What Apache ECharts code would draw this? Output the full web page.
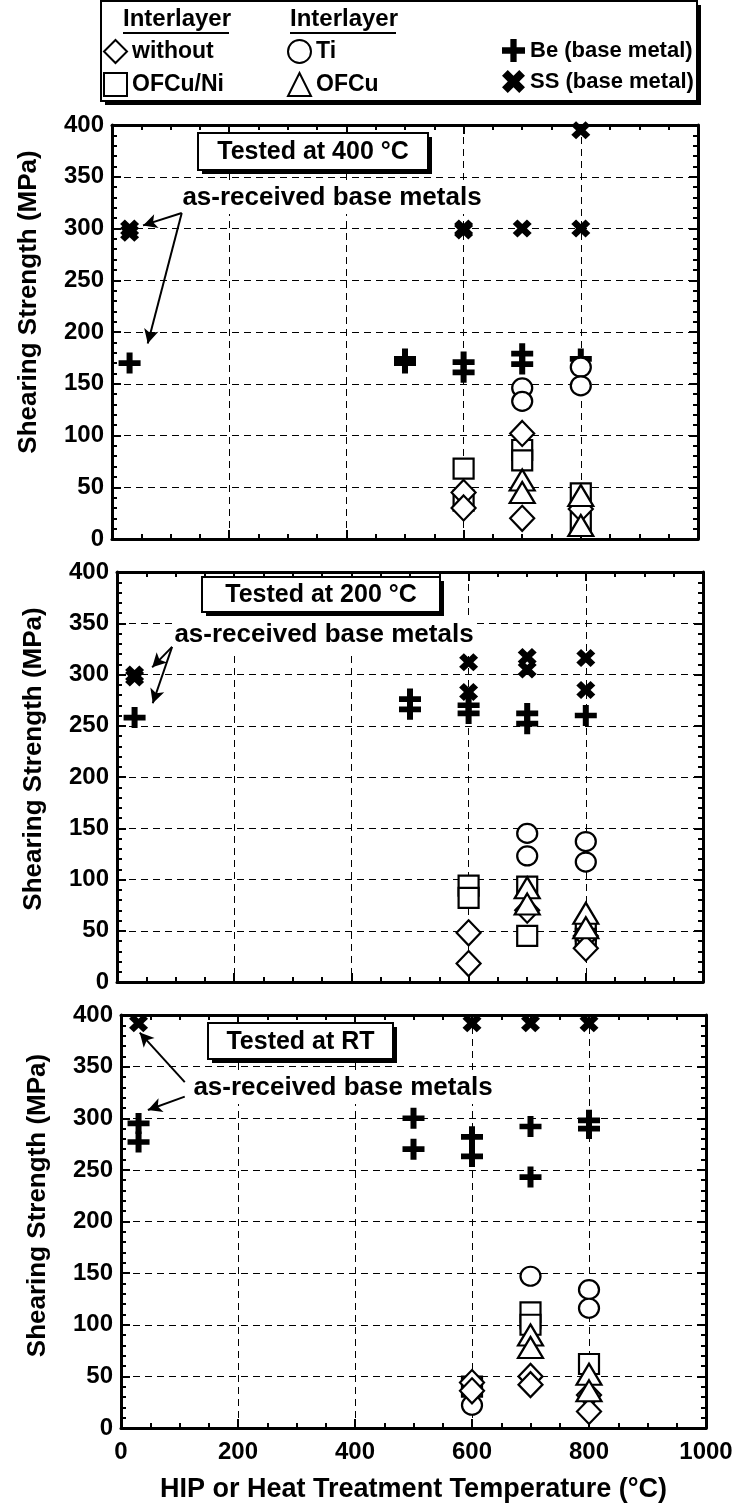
<!DOCTYPE html>
<html><head><meta charset="utf-8">
<script src="https://cdn.jsdelivr.net/npm/echarts@6/dist/echarts.min.js"></script>
<style>html,body{margin:0;padding:0;background:#fff}#c{width:739px;height:1507px}</style>
</head><body><div id="c"></div>
<script>
// ---------- labels ----------
const seriesNames = ['without', 'OFCu/Ni', 'Ti', 'OFCu', 'Be (base metal)', 'SS (base metal)'];
const panelTitles = ['Tested at 400 °C', 'Tested at 200 °C', 'Tested at RT'];
const noteText = 'as-received base metals';
const headerText = 'Interlayer';
const yTitle = 'Shearing Strength (MPa)';
const xTitle = 'HIP or Heat Treatment Temperature (°C)';

// ---------- data: [temperature °C, shearing strength MPa] ----------
// Tested at 400 °C
const t400_without = [[600, 45], [600, 30], [700, 102], [700, 20], [800, 29]];
const t400_ofcuni  = [[600, 68], [600, 37], [700, 86], [700, 76], [800, 44], [800, 16]];
const t400_ti      = [[700, 146], [700, 133], [800, 166], [800, 148]];
const t400_ofcu    = [[700, 57], [700, 45], [800, 42], [800, 13]];
const t400_be      = [[30, 170], [500, 174], [500, 170], [600, 171], [600, 161], [700, 179], [700, 169], [800, 174]];
const t400_ss      = [[30, 300], [30, 296], [600, 300], [600, 298], [700, 300], [800, 395], [800, 300]];
// Tested at 200 °C
const t200_without = [[600, 48], [600, 18], [700, 70], [800, 45], [800, 33]];
const t200_ofcuni  = [[600, 94], [600, 82], [700, 93], [700, 45], [800, 50], [800, 42]];
const t200_ti      = [[700, 145], [700, 123], [800, 137], [800, 117]];
const t200_ofcu    = [[700, 92], [700, 76], [800, 67], [800, 53]];
const t200_be      = [[30, 258], [500, 276], [500, 266], [600, 270], [600, 262], [700, 262], [700, 252], [800, 260]];
const t200_ss      = [[30, 300], [30, 297], [600, 312], [600, 283], [700, 317], [700, 305], [800, 316], [800, 285]];
// Tested at RT
const tRT_without  = [[600, 44], [600, 36], [700, 50], [700, 42], [800, 32], [800, 16]];
const tRT_ofcuni   = [[600, 40], [700, 112], [700, 100], [800, 62]];
const tRT_ti       = [[600, 22], [700, 147], [700, 98], [800, 134], [800, 116]];
const tRT_ofcu     = [[700, 90], [700, 78], [800, 52], [800, 36]];
const tRT_be       = [[30, 295], [30, 277], [500, 300], [500, 270], [600, 282], [600, 263], [700, 292], [700, 243], [800, 298], [800, 290]];
const tRT_ss       = [[30, 392], [600, 392], [700, 392], [800, 392]];

// annotation arrows (data coordinates: [from], [to])
const arrows400 = [[[119, 315], [53, 303]], [[119, 315], [61, 189]]];
const arrows200 = [[[94, 327], [60, 307]], [[94, 327], [61, 272]]];
const arrowsRT  = [[[109, 335], [32, 383]], [[109, 321], [46, 308]]];

const panelData = [
  [t400_without, t400_ofcuni, t400_ti, t400_ofcu, t400_be, t400_ss],
  [t200_without, t200_ofcuni, t200_ti, t200_ofcu, t200_be, t200_ss],
  [tRT_without, tRT_ofcuni, tRT_ti, tRT_ofcu, tRT_be, tRT_ss]
];
const panelArrows = [arrows400, arrows200, arrowsRT];

// ---------- styling ----------
const FONT = '"Liberation Sans", Arial, Helvetica, sans-serif';
const PLUS = 'path://M4,0H7V4H11V7H7V11H4V7H0V4H4Z';
const XS = 'path://M0,3L3,0L6,3L9,0L12,3L9,6L12,9L9,12L6,9L3,12L0,9L3,6Z';
const symbolStyle = {
  'without': { symbol: 'diamond', symbolSize: [24, 25], open: true },
  'OFCu/Ni': { symbol: 'rect', symbolSize: [20, 20], open: true },
  'Ti': { symbol: 'circle', symbolSize: [20, 19], open: true },
  'OFCu': { symbol: 'triangle', symbolSize: [25, 21], open: true },
  'Be (base metal)': { symbol: PLUS, symbolSize: [22, 21], open: false },
  'SS (base metal)': { symbol: XS, symbolSize: [19, 18], open: false }
};
const drawOrder = [4, 5, 2, 1, 0, 3];

const grids = [
  { left: 112, top: 125, width: 586, height: 414 },
  { left: 117, top: 572, width: 586, height: 410 },
  { left: 121, top: 1015, width: 585, height: 413 }
];
const yTitleShift = [30, 18, 16];

const black = '#000';
function xAxisDef(i, top) {
  return {
    gridIndex: i, type: 'value', min: 0, max: 1000, interval: 200,
    position: top ? 'top' : 'bottom',
    axisLine: { show: true, onZero: false, lineStyle: { color: black, width: 3 } },
    axisTick: { show: true, inside: true, length: 9, lineStyle: { color: black, width: 2 } },
    minorTick: { show: true, splitNumber: 4, length: 5, lineStyle: { color: black, width: 2 } },
    splitLine: { show: !top, lineStyle: { color: black, width: 1, type: [7, 5] } },
    axisLabel: { show: !top && i === 2, color: black, fontFamily: FONT, fontWeight: 'bold', fontSize: 24, margin: 12,
                 formatter: v => String(v) },
    name: (!top && i === 2) ? xTitle : '',
    nameLocation: 'middle', nameGap: 48,
    nameTextStyle: { color: black, fontFamily: FONT, fontWeight: 'bold', fontSize: 27 }
  };
}
function yAxisDef(i, right) {
  return {
    gridIndex: i, type: 'value', min: 0, max: 400, interval: 50,
    position: right ? 'right' : 'left',
    axisLine: { show: true, onZero: false, lineStyle: { color: black, width: 3 } },
    axisTick: { show: true, inside: true, length: 9, lineStyle: { color: black, width: 2 } },
    minorTick: { show: true, splitNumber: 5, length: 5, lineStyle: { color: black, width: 2 } },
    splitLine: { show: !right, lineStyle: { color: black, width: 1, type: [7, 5] } },
    axisLabel: { show: !right, color: black, fontFamily: FONT, fontWeight: 'bold', fontSize: 24, margin: 8 },
    name: right ? '' : yTitle,
    nameLocation: 'middle', nameGap: 70, nameRotate: 90,
    nameTextStyle: { color: black, fontFamily: FONT, fontWeight: 'bold', fontSize: 26,
                     padding: [0, 0, 0, 2 * yTitleShift[i]] }
  };
}

const xAxes = [], yAxes = [];
for (let i = 0; i < 3; i++) { xAxes.push(xAxisDef(i, false)); yAxes.push(yAxisDef(i, false)); }
for (let i = 0; i < 3; i++) { xAxes.push(xAxisDef(i, true)); yAxes.push(yAxisDef(i, true)); }

const series = [];
for (let p = 0; p < 3; p++) {
  drawOrder.forEach(k => {
    const name = seriesNames[k];
    const st = symbolStyle[name];
    const s = {
      type: 'scatter', name, xAxisIndex: p, yAxisIndex: p,
      data: panelData[p][k],
      symbol: st.symbol, symbolSize: st.symbolSize,
      itemStyle: st.open ? { color: '#fff', borderColor: black, borderWidth: 2.2, opacity: 1 }
                         : { color: black, borderColor: black, borderWidth: 0, opacity: 1 },
      emphasis: { disabled: true },
      z: 3
    };
    if (name === 'SS (base metal)') {
      s.markLine = {
        silent: true, symbol: ['none', 'arrow'], symbolSize: [11, 14],
        label: { show: false },
        lineStyle: { color: black, width: 2, type: 'solid' },
        data: panelArrows[p].map(a => [{ coord: a[0] }, { coord: a[1] }])
      };
    }
    series.push(s);
  });
}

const legendCommon = { orient: 'vertical', itemWidth: 23, itemHeight: 23, itemGap: 8, padding: 0, selectedMode: false, z: 5 };
const legends = [
  Object.assign({ left: 103, top: 39, data: [seriesNames[0], seriesNames[1]],
    textStyle: { color: black, fontFamily: FONT, fontWeight: 'bold', fontSize: 23 } }, legendCommon),
  Object.assign({ left: 287, top: 39, data: [seriesNames[2], seriesNames[3]],
    textStyle: { color: black, fontFamily: FONT, fontWeight: 'bold', fontSize: 23 } }, legendCommon),
  Object.assign({ left: 502, top: 39, data: [seriesNames[4], seriesNames[5]],
    textStyle: { color: black, fontFamily: FONT, fontWeight: 'bold', fontSize: 22 } }, legendCommon)
];

// text boxes
function shadowBox(x, y, w, h, z) {
  return [
    { type: 'rect', z, shape: { x: x + 4, y: y + 4, width: w, height: h }, style: { fill: black } },
    { type: 'rect', z, shape: { x, y, width: w, height: h }, style: { fill: '#fff', stroke: black, lineWidth: 2 } }
  ];
}
const titleBoxes = [
  { x: 198, y: 133, w: 230, h: 37 },
  { x: 202, y: 577, w: 238, h: 35 },
  { x: 208, y: 1023, w: 185, h: 36 }
];
const noteBoxes = [
  { x: 332, y: 198 },
  { x: 324, y: 635 },
  { x: 343, y: 1088 }
];
const graphics = [];
graphics.push(...shadowBox(101, 1, 596, 100, 1));
[123, 290].forEach(x => {
  graphics.push({ type: 'text', z: 6, style: { x, y: 7, text: headerText, font: 'bold 24px ' + FONT, fill: black } });
  graphics.push({ type: 'line', z: 6, shape: { x1: x, y1: 33, x2: x + 106, y2: 33 }, style: { stroke: black, lineWidth: 2 } });
});
titleBoxes.forEach((b, i) => {
  graphics.push(...shadowBox(b.x, b.y, b.w, b.h, 4));
  graphics.push({ type: 'text', z: 5, style: { x: b.x + b.w / 2, y: b.y + b.h / 2 + 1, text: panelTitles[i], font: 'bold 25px ' + FONT, fill: black, align: 'center', verticalAlign: 'middle' } });
});
noteBoxes.forEach(b => {
  graphics.push({ type: 'text', z: 4, style: { x: b.x, y: b.y, text: noteText, font: 'bold 26px ' + FONT, fill: black, align: 'center', verticalAlign: 'middle', backgroundColor: '#fff', padding: [3, 2] } });
});

const chart = echarts.init(document.getElementById('c'), null, { renderer: 'canvas' });
chart.setOption({
  animation: false,
  backgroundColor: '#fff',
  grid: grids,
  xAxis: xAxes,
  yAxis: yAxes,
  legend: legends,
  series,
  graphic: graphics
});
</script>
</body></html>
